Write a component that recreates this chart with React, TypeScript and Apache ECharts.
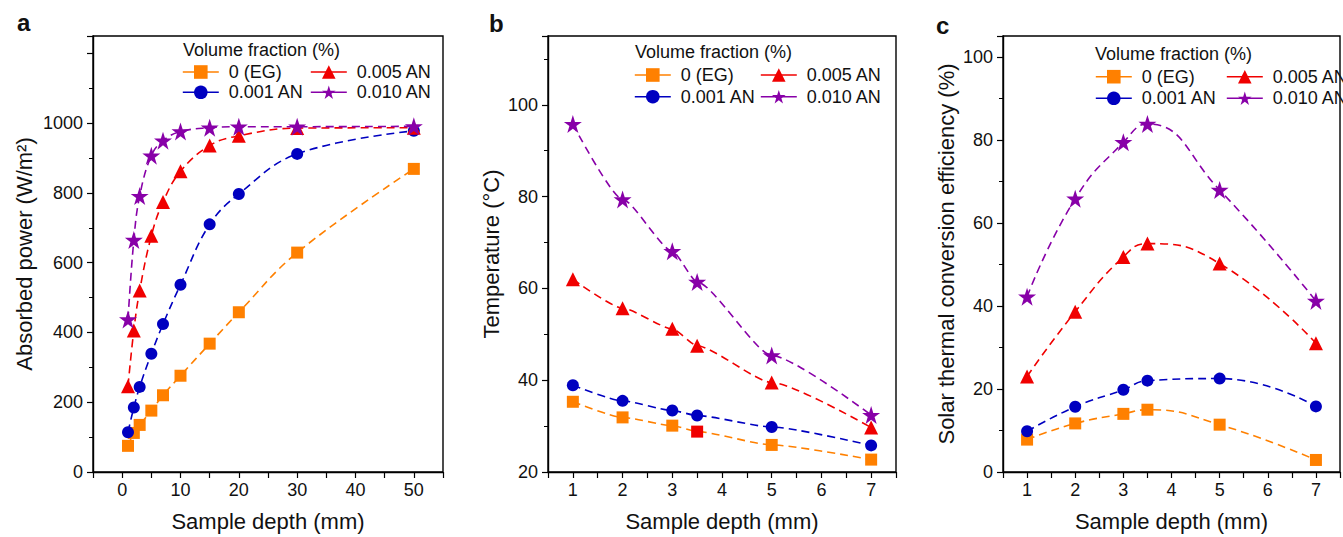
import React, { useEffect, useRef } from 'react';
import * as echarts from 'echarts';

const FONT = '"Liberation Sans", Arial, sans-serif';

const SERIES_NAMES = ['0 (EG)', '0.001 AN', '0.005 AN', '0.010 AN'];
const COLORS = ['#FF8000', '#0000C0', '#F00000', '#8800A8'];

// Panel a
const depthA = [1, 2, 3, 5, 7, 10, 15, 20, 30, 50];
const powerEG = [75, 112, 135, 176, 220, 276, 368, 458, 629, 869];
const power001 = [114, 185, 244, 339, 424, 537, 710, 797, 912, 978];
const power005 = [246, 406, 520, 677, 774, 862, 936, 964, 986, 987];
const power010 = [437, 665, 791, 907, 950, 976, 987, 990, 990, 991];

// Panels b and c
const depthBC = [1, 2, 3, 3.5, 5, 7];
const tempEG = [35.3, 31.9, 30.1, 28.8, 25.9, 22.7];
const temp001 = [38.9, 35.5, 33.4, 32.3, 29.8, 25.8];
const temp005 = [62.0, 55.7, 51.2, 47.5, 39.5, 29.7];
const temp010 = [95.8, 79.4, 68.1, 61.4, 45.4, 32.4];

const effEG = [7.8, 11.7, 14.0, 15.0, 11.4, 2.9];
const eff001 = [9.8, 15.7, 19.8, 22.0, 22.5, 15.8];
const eff005 = [23.0, 38.6, 51.8, 55.0, 50.2, 31.0];
const eff010 = [42.2, 65.8, 79.4, 83.8, 67.9, 41.2];

const xTicksA = [0, 10, 20, 30, 40, 50];

const STAR = 'path://M50,2 L61.2,36 L97,36 L68,57 L79,92 L50,70.5 L21,92 L32,57 L3,36 L38.8,36 Z';
const SYMBOLS = ['rect', 'circle', 'triangle', STAR];
const SYMBOL_SIZES = [12, 12, 14, 18];

function pairs(xs: number[], ys: number[]) {
  return xs.map((x, i) => [x, ys[i]]);
}

function makeSeries(gridIdx: number, k: number, xs: number[], ys: number[], smooth: number, monotone?: string) {
  return {
    type: 'line',
    name: SERIES_NAMES[k],
    xAxisIndex: gridIdx,
    yAxisIndex: gridIdx,
    data: pairs(xs, ys),
    smooth,
    smoothMonotone: monotone,
    symbol: SYMBOLS[k],
    symbolSize: SYMBOL_SIZES[k],
    showAllSymbol: true,
    itemStyle: { color: COLORS[k] },
    lineStyle: { color: COLORS[k], width: 1.6, type: [8, 5] },
    emphasis: { disabled: true },
  };
}

function legendItem(name: string, left: number, top: number) {
  return {
    data: [name],
    left,
    top,
    padding: 0,
    itemWidth: 36,
    itemHeight: 17,
    itemGap: 0,
    selectedMode: false,
    lineStyle: { type: 'solid', width: 1.6 },
    textStyle: { fontSize: 18, color: '#111', fontFamily: FONT, padding: [0, 0, 0, 5] },
  };
}

function panelLegends(c1: number, c2: number, r1: number, r2: number) {
  return [
    legendItem(SERIES_NAMES[0], c1, r1 - 9),
    legendItem(SERIES_NAMES[2], c2, r1 - 9),
    legendItem(SERIES_NAMES[1], c1, r2 - 9),
    legendItem(SERIES_NAMES[3], c2, r2 - 9),
  ];
}

const axisCommon = {
  axisLine: { show: true, onZero: false, lineStyle: { color: '#000', width: 1.4 } },
  axisTick: { show: true, inside: false, length: 6, lineStyle: { color: '#000', width: 1.2 } },
  splitLine: { show: false },
};

const labelStyle = { fontSize: 18, color: '#111', fontFamily: FONT };
const nameStyle = { fontSize: 22, color: '#111', fontFamily: FONT };

export default function App() {
  const ref = useRef<HTMLDivElement>(null);
  useEffect(() => {
    if (!ref.current) return;
    const chart = echarts.init(ref.current, undefined, { renderer: 'svg' });
    const grids = [
      { left: 93, top: 36, width: 350, height: 438 },
      { left: 548, top: 36, width: 348, height: 438 },
      { left: 1003, top: 36, width: 348, height: 438 },
    ].map((g) => ({ ...g, show: true, borderColor: '#000', borderWidth: 1.4, backgroundColor: 'transparent' }));

    const xAxis = [
      {
        type: 'value', gridIndex: 0, min: -5, max: 55, interval: 5,
        name: 'Sample depth (mm)', nameLocation: 'middle', nameGap: 38, nameTextStyle: nameStyle,
        ...axisCommon,
        axisLabel: { ...labelStyle, margin: 9, formatter: (v: number) => (xTicksA.includes(v) ? String(v) : '') },
      },
      {
        type: 'value', gridIndex: 1, min: 0.5, max: 7.5, interval: 0.5,
        name: 'Sample depth (mm)', nameLocation: 'middle', nameGap: 38, nameTextStyle: nameStyle,
        ...axisCommon,
        axisLabel: { ...labelStyle, margin: 9, formatter: (v: number) => (Number.isInteger(v) ? String(v) : '') },
      },
      {
        type: 'value', gridIndex: 2, min: 0.5, max: 7.5, interval: 0.5,
        name: 'Sample depth (mm)', nameLocation: 'middle', nameGap: 38, nameTextStyle: nameStyle,
        ...axisCommon,
        axisLabel: { ...labelStyle, margin: 9, formatter: (v: number) => (Number.isInteger(v) ? String(v) : '') },
      },
    ];

    const yAxis = [
      {
        type: 'value', gridIndex: 0, min: 0, max: 1250, interval: 200,
        name: 'Absorbed power (W/m²)', nameLocation: 'middle', nameGap: 58, nameTextStyle: nameStyle,
        ...axisCommon,
        minorTick: { show: true, splitNumber: 2, length: 4, lineStyle: { color: '#000', width: 1 } },
        axisLabel: { ...labelStyle, margin: 10, formatter: (v: number) => (v <= 1000 ? String(v) : '') },
      },
      {
        type: 'value', gridIndex: 1, min: 20, max: 115, interval: 20,
        name: 'Temperature (°C)', nameLocation: 'middle', nameGap: 46, nameTextStyle: nameStyle,
        ...axisCommon,
        minorTick: { show: true, splitNumber: 2, length: 4, lineStyle: { color: '#000', width: 1 } },
        axisLabel: { ...labelStyle, margin: 10, formatter: (v: number) => (v <= 100 ? String(v) : '') },
      },
      {
        type: 'value', gridIndex: 2, min: 0, max: 105, interval: 20,
        name: 'Solar thermal conversion efficiency (%)', nameLocation: 'middle', nameGap: 46, nameTextStyle: nameStyle,
        ...axisCommon,
        minorTick: { show: true, splitNumber: 2, length: 4, lineStyle: { color: '#000', width: 1 } },
        axisLabel: { ...labelStyle, margin: 10, formatter: (v: number) => (v <= 100 ? String(v) : '') },
      },
    ];

    const series = [
      makeSeries(0, 0, depthA, powerEG, 0.4),
      makeSeries(0, 1, depthA, power001, 0.4),
      makeSeries(0, 2, depthA, power005, 0.4),
      makeSeries(0, 3, depthA, power010, 0.4),
      makeSeries(1, 0, depthBC, tempEG, 0.2, 'x'),
      makeSeries(1, 1, depthBC, temp001, 0.2, 'x'),
      makeSeries(1, 2, depthBC, temp005, 0.2, 'x'),
      makeSeries(1, 3, depthBC, temp010, 0.2, 'x'),
      makeSeries(2, 0, depthBC, effEG, 0.5),
      makeSeries(2, 1, depthBC, eff001, 0.5),
      makeSeries(2, 2, depthBC, eff005, 0.5),
      makeSeries(2, 3, depthBC, eff010, 0.5),
    ];

    const textEl = (text: string, x: number, y: number, size: number, bold = false) => ({
      type: 'text',
      x,
      y,
      silent: true,
      style: {
        text,
        fontSize: size,
        fontWeight: bold ? 'bold' : 'normal',
        fontFamily: FONT,
        fill: '#111',
        verticalAlign: 'middle',
        align: 'left',
      },
    });

    chart.setOption({
      animation: false,
      backgroundColor: '#fff',
      grid: grids,
      xAxis,
      yAxis,
      series,
      visualMap: [
        {
          type: 'piecewise',
          show: false,
          seriesIndex: 4,
          dimension: 0,
          pieces: [
            { lte: 3, color: COLORS[0] },
            { gt: 3, lt: 5, color: COLORS[2] },
            { gte: 5, color: COLORS[0] },
          ],
        },
      ],
      legend: [
        ...panelLegends(182, 310, 72, 92.3),
        ...panelLegends(634, 760, 75, 96.7),
        ...panelLegends(1095, 1226, 76.7, 98.3),
      ],
      graphic: [
        textEl('a', 17, 22, 24, true),
        textEl('b', 489, 23, 24, true),
        textEl('c', 936, 25, 24, true),
        textEl('Volume fraction (%)', 183, 50, 18),
        textEl('Volume fraction (%)', 635, 52.3, 18),
        textEl('Volume fraction (%)', 1095, 54.3, 18),
      ],
    });
    return () => chart.dispose();
  }, []);

  return (
    <div
      ref={ref}
      style={{ position: 'absolute', left: 0, top: 0, width: 1343, height: 537, background: '#fff' }}
    />
  );
}
